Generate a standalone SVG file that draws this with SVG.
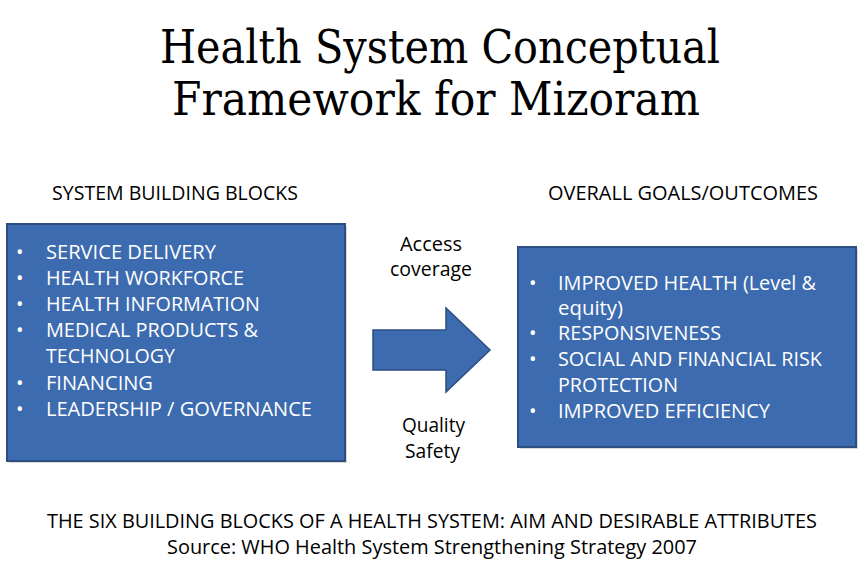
<svg xmlns="http://www.w3.org/2000/svg" width="865" height="575" viewBox="0 0 865 575">
<style>
.t{font-family:"DejaVu Serif","Liberation Serif",serif;font-size:47px;fill:#000}
.h{font-family:"Open Sans","Liberation Sans",sans-serif;font-size:20px;fill:#000}
.w{font-family:"Open Sans","Liberation Sans",sans-serif;font-size:20px;fill:#fff}
.box{fill:#3D6BAF;stroke:#2C4E80;stroke-width:2}
.sh{fill:#000;opacity:0.15}
</style>
<rect width="865" height="575" fill="#fff"/>
<g id="title">
<text class="t" x="160" y="63" textLength="560" lengthAdjust="spacingAndGlyphs">Health System Conceptual</text>
<text class="t" x="172" y="115" textLength="528" lengthAdjust="spacingAndGlyphs">Framework for Mizoram</text>
</g>
<g id="headers">
<text class="h" x="52" y="200" textLength="246" lengthAdjust="spacingAndGlyphs">SYSTEM BUILDING BLOCKS</text>
<text class="h" x="548" y="200" textLength="270" lengthAdjust="spacingAndGlyphs">OVERALL GOALS/OUTCOMES</text>
</g>
<g id="building-blocks">
<rect class="sh" x="9" y="226" width="338" height="237"/>
<rect class="box" x="7" y="224" width="338" height="237"/>
<g class="w">
<text x="16" y="259">•</text><text x="46" y="259" textLength="170" lengthAdjust="spacingAndGlyphs">SERVICE DELIVERY</text>
<text x="16" y="285">•</text><text x="46" y="285" textLength="198" lengthAdjust="spacingAndGlyphs">HEALTH WORKFORCE</text>
<text x="16" y="311">•</text><text x="46" y="311" textLength="214" lengthAdjust="spacingAndGlyphs">HEALTH INFORMATION</text>
<text x="16" y="337">•</text><text x="46" y="337" textLength="212" lengthAdjust="spacingAndGlyphs">MEDICAL PRODUCTS &amp;</text>
<text x="46" y="363" textLength="129" lengthAdjust="spacingAndGlyphs">TECHNOLOGY</text>
<text x="16" y="390">•</text><text x="46" y="390" textLength="107" lengthAdjust="spacingAndGlyphs">FINANCING</text>
<text x="16" y="416">•</text><text x="46" y="416" textLength="266" lengthAdjust="spacingAndGlyphs">LEADERSHIP / GOVERNANCE</text>
</g>
</g>
<g id="goals">
<rect class="sh" x="520" y="249" width="338" height="200"/>
<rect class="box" x="518" y="247" width="338" height="200"/>
<g class="w">
<text x="529" y="290">•</text><text x="558" y="290" textLength="258" lengthAdjust="spacingAndGlyphs">IMPROVED HEALTH (Level &amp;</text>
<text x="558" y="315" textLength="65" lengthAdjust="spacingAndGlyphs">equity)</text>
<text x="529" y="340">•</text><text x="558" y="340" textLength="163" lengthAdjust="spacingAndGlyphs">RESPONSIVENESS</text>
<text x="529" y="366">•</text><text x="558" y="366" textLength="264" lengthAdjust="spacingAndGlyphs">SOCIAL AND FINANCIAL RISK</text>
<text x="558" y="392" textLength="120" lengthAdjust="spacingAndGlyphs">PROTECTION</text>
<text x="529" y="418">•</text><text x="558" y="418" textLength="212" lengthAdjust="spacingAndGlyphs">IMPROVED EFFICIENCY</text>
</g>
</g>
<g id="connectors">
<path d="M373,330 H446 V308 L490,350 L446,392 V370 H373 Z" fill="#3D6BAF" stroke="#2C4E80" stroke-width="1.5"/>
</g>
<g id="arrow-labels">
<text class="h" x="400" y="251" textLength="62" lengthAdjust="spacingAndGlyphs">Access</text>
<text class="h" x="390" y="276" textLength="82" lengthAdjust="spacingAndGlyphs">coverage</text>
<text class="h" x="402" y="432" textLength="63" lengthAdjust="spacingAndGlyphs">Quality</text>
<text class="h" x="405" y="458" textLength="55" lengthAdjust="spacingAndGlyphs">Safety</text>
</g>
<g id="caption">
<text class="h" x="47" y="528" textLength="770" lengthAdjust="spacingAndGlyphs">THE SIX BUILDING BLOCKS OF A HEALTH SYSTEM: AIM AND DESIRABLE ATTRIBUTES</text>
<text class="h" x="167" y="554" textLength="530" lengthAdjust="spacingAndGlyphs">Source: WHO Health System Strengthening Strategy 2007</text>
</g>
</svg>
